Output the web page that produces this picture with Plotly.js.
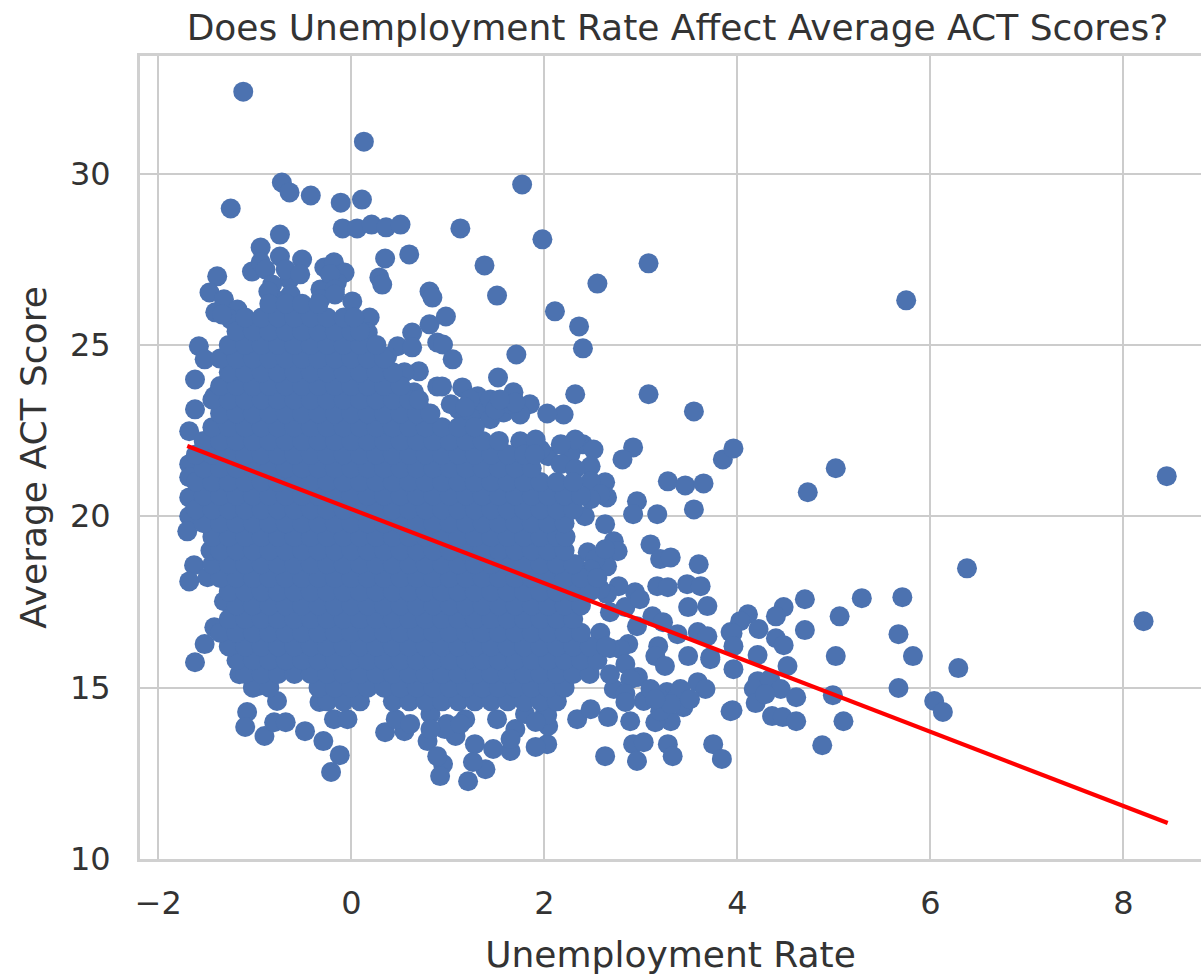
<!DOCTYPE html>
<html><head><meta charset="utf-8">
<script src="https://cdn.plot.ly/plotly-3.0.1.min.js"></script>
<style>html,body{margin:0;padding:0;background:#fff}</style></head>
<body><div id="chart" style="width:1201px;height:976px"></div>
<script>
// Points that can be told apart in the picture: read one by one.
const edgeX = [-1.12,.13,-.72,-.64,-.42,-.11,.11,-1.25,1.77,-.09,.06,.21,.36,.51,1.13,1.98,-.74,3.08,1.38,.35,.60,2.55,1.51,.81,.84,.29,.32,-.94,-1.03,-.94,-.74,-.51,-.64,-.28,-.18,-.07,-.15,-.32,.01,.19,.17,-1.39,-1.47,-1.41,-1.32,-1.18,-1.58,-1.52,-1.62,-1.42,-1.62,-1.68,.63,.48,.63,.70,.89,.89,.81,.55,.65,.76,.37,.98,.95,1.05,.94,1.15,1.52,1.31,1.68,1.85,2.20,2.03,1.11,1.34,1.58,1.75,1.71,2.40,2.32,3.08,3.55,2.11,2.36,5.75,2.40,2.27,2.51,2.92,2.81,1.75,2.04,2.48,2.63,2.65,2.96,2.92,3.17,3.55,3.28,3.46,3.65,3.85,3.96,4.73,5.02,8.45,2.63,2.72,2.76,3.10,3.20,3.31,3.60,2.45,2.65,2.42,3.17,3.28,3.48,3.62,2.94,2.77,2.65,3.49,3.69,3.12,3.23,2.96,3.38,3.59,3.69,3.93,3.18,3.15,3.25,3.49,3.72,2.87,3.59,3.67,3.93,2.97,2.72,3.27,3.38,3.44,3.03,3.31,3.15,2.89,2.66,2.34,2.48,2.92,3.03,2.96,2.63,3.28,3.33,3.75,3.84,2.03,1.91,2.04,1.65,1.47,1.28,1.08,.95,.92,1.21,1.39,1.26,1.70,1.51,6.38,4.70,5.29,5.71,4.48,4.40,5.06,4.11,4.03,4.22,3.95,4.70,5.67,4.40,4.48,5.82,5.02,4.21,3.96,3.72,4.52,3.96,6.29,4.21,4.17,4.34,4.45,4.61,4.99,5.67,6.04,6.13,4.19,3.95,4.36,4.47,4.61,5.10,4.88,8.21,4.29,-1.68,-1.68,-1.70,-1.63,-1.68,-1.49,-1.32,-1.42,-1.52,-1.62,-1.16,-.97,-.77,-1.08,-1.10,-.90,-.80,-.68,-.48,-.29,-.12,-.21,-.33,-.18,-.04,.35,.55,.79,.89,.46,.61,-1.68,-1.68,.82,.99,1.18,1.80,2.01,
-.89,-.82,-.68,-.53,-.63,-.79,-.22,-.17,-.32,-.17,-.86,-1.10,-1.25,-1.34,
3.10,3.20,3.41,3.20,3.51,3.31,2.79,2.84,2.89,2.68,.97,.82,1.13,2.03,1.91,1.65,
1.23,1.44,1.23,1.44,1.65,1.03,1.18,1.49,1.70,1.54,
2.17,2.32,2.48,2.58,2.48,2.32,2.17,1.96,1.91,2.53,2.63,2.48,2.32,
2.84,2.68,2.58,2.99,2.58,2.68,2.48,2.84,2.84,3.15];
const edgeY = [32.39,30.93,29.74,29.45,29.36,29.15,29.24,28.98,29.68,28.40,28.40,28.51,28.43,28.51,28.40,28.08,28.22,27.38,27.32,27.52,27.64,26.79,26.44,26.56,26.38,26.97,26.76,27.84,27.14,27.41,27.58,27.49,26.91,27.26,27.41,27.11,26.82,26.62,26.27,25.80,25.36,27.00,26.53,25.95,26.33,26.03,24.96,24.58,23.99,23.50,23.12,22.48,25.36,24.96,24.93,24.23,25.07,23.79,25.60,24.20,23.62,23.03,24.66,25.83,25.01,24.58,23.79,23.76,24.05,23.50,23.62,23.27,22.97,23.0,23.12,23.12,23.03,22.97,24.72,24.90,23.56,23.56,23.06,25.98,25.54,26.30,22.10,21.81,21.95,22.01,21.66,22.19,21.75,21.46,20.99,20.55,20.44,20.06,20.06,20.20,21.02,20.90,20.96,21.66,21.98,20.70,21.40,21.17,19.77,19.27,18.98,19.18,18.75,18.80,18.60,18.95,18.54,20.0,17.96,17.93,18.02,17.96,17.78,17.96,17.73,17.35,17.38,17.08,16.91,16.79,16.56,16.62,16.50,16.62,16.21,15.92,15.63,15.92,15.89,16.27,15.16,14.96,14.31,15.31,14.96,14.87,14.75,14.43,14.61,14.02,13.99,14.02,14.14,14.08,14.37,13.35,13.41,12.86,13.0,13.35,13.0,13.35,12.92,13.35,13.27,13.88,13.15,13.21,13.35,13.59,12.77,12.42,12.27,12.62,12.83,13.79,14.08,18.48,17.58,17.61,17.64,17.35,17.08,17.08,17.14,16.94,16.71,16.59,16.68,16.56,16.44,16.24,15.92,15.92,15.95,16.21,15.83,15.63,15.54,15.57,15.19,14.96,15.25,14.96,14.72,14.78,14.99,14.61,14.29,14.55,14.34,14.17,14.14,14.02,14.02,13.32,16.94,14.81,20.55,20.0,19.56,18.57,18.10,18.22,17.52,16.76,16.27,15.74,15.39,15.04,14.61,14.29,13.85,13.59,13.99,13.99,13.73,13.44,13.03,12.54,14.58,14.08,14.08,13.70,13.73,13.44,13.0,14.08,13.94,21.52,21.14,14.23,13.94,14.08,14.23,14.31,
27.2,26.76,27.2,27.06,26.47,26.33,27.06,26.62,26.33,26.47,26.56,25.6,25.74,25.89,
14.96,14.66,14.96,14.31,14.66,14.52,16.12,15.69,15.25,15.39,13.79,13.79,13.94,14.2,14.0,13.5,
23.41,23.41,22.89,22.83,23.27,23.27,23.18,23.12,23.32,23.41,
21.52,21.38,21.02,20.64,20.5,22.24,22.10,21.95,22.24,18.75,19.04,18.45,18.6,
17.35,17.2,17.87,17.58,16.6,16.15,15.85,14.82,14.58,14.66];

// The solid mass: single points cannot be read there, so it is estimated as
// bands of points, each band holding one y value and the x values seen at it.
const bandY = [14.6,15.0,15.4,15.8,16.2,16.6,17.0,17.4,17.8,18.2,18.6,19.0,19.4,19.8,20.2,20.6,21.0,21.4,21.8,22.2,22.6,23.0,23.4,23.8,24.2,24.6,25.0,25.4,25.8,26.2];
const bandX = [
[-.25,-.08,.09,.43,.60,.77,.94,1.11,1.28,1.45,1.62,1.79,1.96,2.13],
[-1.02,-.85,-.34,-.17,0,.17,.34,.51,.68,.85,1.02,1.19,1.36,1.53,1.70,1.87,2.04,2.21],
[-1.10,-.93,-.76,-.59,-.42,-.25,-.08,.09,.26,.43,.60,.77,.94,1.11,1.28,1.45,1.62,1.79,1.96,2.13,2.30,2.47],
[-1.19,-1.02,-.85,-.68,-.51,-.34,-.17,0,.17,.34,.51,.68,.85,1.02,1.19,1.36,1.53,1.70,1.87,2.04,2.21,2.38,2.55],
[-1.27,-1.10,-.93,-.76,-.59,-.42,-.25,-.08,.09,.26,.43,.60,.77,.94,1.11,1.28,1.45,1.62,1.79,1.96,2.13,2.30,2.47,2.64],
[-1.36,-1.19,-1.02,-.85,-.68,-.51,-.34,-.17,0,.17,.34,.51,.68,.85,1.02,1.19,1.36,1.53,1.70,1.87,2.04,2.21,2.38],
[-1.27,-1.10,-.93,-.76,-.59,-.42,-.25,-.08,.09,.26,.43,.60,.77,.94,1.11,1.28,1.45,1.62,1.79,1.96,2.13,2.30],
[-1.19,-1.02,-.85,-.68,-.51,-.34,-.17,0,.17,.34,.51,.68,.85,1.02,1.19,1.36,1.53,1.70,1.87,2.04,2.21,2.38],
[-1.27,-1.10,-.93,-.76,-.59,-.42,-.25,-.08,.09,.26,.43,.60,.77,.94,1.11,1.28,1.45,1.62,1.79,1.96,2.13,2.30,2.47],
[-1.36,-1.19,-1.02,-.85,-.68,-.51,-.34,-.17,0,.17,.34,.51,.68,.85,1.02,1.19,1.36,1.53,1.70,1.87,2.04,2.21,2.38,2.55],
[-1.44,-1.27,-1.10,-.93,-.76,-.59,-.42,-.25,-.08,.09,.26,.43,.60,.77,.94,1.11,1.28,1.45,1.62,1.79,1.96,2.13,2.30],
[-1.46,-1.36,-1.19,-1.02,-.85,-.68,-.51,-.34,-.17,0,.17,.34,.51,.68,.85,1.02,1.19,1.36,1.53,1.70,1.87,2.04,2.21],
[-1.44,-1.27,-1.10,-.93,-.76,-.59,-.42,-.25,-.08,.09,.26,.43,.60,.77,.94,1.11,1.28,1.45,1.62,1.79,1.96,2.13,2.22],
[-1.53,-1.36,-1.19,-1.02,-.85,-.68,-.51,-.34,-.17,0,.17,.34,.51,.68,.85,1.02,1.19,1.36,1.53,1.70,1.87,2.04,2.21],
[-1.61,-1.44,-1.27,-1.10,-.93,-.76,-.59,-.42,-.25,-.08,.09,.26,.43,.60,.77,.94,1.11,1.28,1.45,1.62,1.79,1.96,2.13,2.30],
[-1.53,-1.36,-1.19,-1.02,-.85,-.68,-.51,-.34,-.17,0,.17,.34,.51,.68,.85,1.02,1.19,1.36,1.53,1.70,1.87,2.04,2.21,2.38],
[-1.61,-1.44,-1.27,-1.10,-.93,-.76,-.59,-.42,-.25,-.08,.09,.26,.43,.60,.77,.94,1.11,1.28,1.45,1.62,1.79,1.96,2.13,2.30],
[-1.53,-1.36,-1.19,-1.02,-.85,-.68,-.51,-.34,-.17,0,.17,.34,.51,.68,.85,1.02,1.19,1.36,1.53,1.70,1.87],
[-1.61,-1.44,-1.27,-1.10,-.93,-.76,-.59,-.42,-.25,-.08,.09,.26,.43,.60,.77,.94,1.11,1.28,1.45,1.62,1.79,1.90],
[-1.53,-1.36,-1.19,-1.02,-.85,-.68,-.51,-.34,-.17,0,.17,.34,.51,.68,.85,1.02,1.19,1.36,1.53],
[-1.44,-1.27,-1.10,-.93,-.76,-.59,-.42,-.25,-.08,.09,.26,.43,.60,.77,.94,1.11,1.28],
[-1.36,-1.19,-1.02,-.85,-.68,-.51,-.34,-.17,0,.17,.34,.51,.68,.82],
[-1.44,-1.27,-1.10,-.93,-.76,-.59,-.42,-.25,-.08,.09,.26,.43,.60,.70],
[-1.36,-1.19,-1.02,-.85,-.68,-.51,-.34,-.17,0,.17,.34,.51],
[-1.27,-1.10,-.93,-.76,-.59,-.42,-.25,-.08,.09,.26,.43],
[-1.36,-1.19,-1.02,-.85,-.68,-.51,-.34,-.17,0,.17,.34],
[-1.27,-1.10,-.93,-.76,-.59,-.42,-.25,-.08,.09,.26],
[-1.19,-1.02,-.85,-.68,-.51,-.34,-.17,0,.09],
[-1.10,-.93,-.76,-.59,-.42,-.25,-.08,.03],
[-.85,-.68,-.51,-.34]
];
const fitX = [-1.70, 8.46];
const fitY = [22.05, 11.05];
const xTicks = [-2,0,2,4,6,8];
const yTicks = [10,15,20,25,30];

const allX = edgeX.slice(), allY = edgeY.slice();
bandX.forEach((row,i)=>row.forEach(v=>{allX.push(v);allY.push(bandY[i]);}));

const ink = '#333333';
const fontFamily = '"DejaVu Sans", sans-serif';
const axisCommon = {
  showgrid:true, gridcolor:'#cccccc', gridwidth:2, zeroline:false,
  showline:true, linecolor:'#d0d0d0', linewidth:3, mirror:true,
  ticks:'', tickfont:{family:fontFamily,size:32,color:ink}
};
Plotly.newPlot('chart',[
 {type:'scatter',mode:'markers',x:allX,y:allY,marker:{color:'#4c72b0',size:20,line:{width:0}},hoverinfo:'skip'},
 {type:'scatter',mode:'lines',x:fitX,y:fitY,line:{color:'#ff0000',width:4.2},hoverinfo:'skip'}
],{
 width:1201,height:976,showlegend:false,paper_bgcolor:'#fff',plot_bgcolor:'#fff',
 margin:{l:140,r:0,t:56,b:117,pad:0},
 title:{text:'Does Unemployment Rate Affect Average ACT Scores?',font:{family:fontFamily,size:36,color:ink},x:0.5641,xanchor:'center',y:0.9723,yanchor:'middle'},
 xaxis:Object.assign({},axisCommon,{range:[-2.19,8.805],tickvals:xTicks,ticktext:xTicks.map(v=>v<0?'\u2212'+(-v):''+v),ticklabelstandoff:14,title:{text:'Unemployment Rate',font:{family:fontFamily,size:36,color:ink},standoff:21}}),
 yaxis:Object.assign({},axisCommon,{range:[10,33.43],tickvals:yTicks,ticktext:yTicks.map(String),ticklabelstandoff:20,title:{text:'Average ACT Score',font:{family:fontFamily,size:36,color:ink},standoff:13}})
},{displayModeBar:false,responsive:false});
</script></body></html>
